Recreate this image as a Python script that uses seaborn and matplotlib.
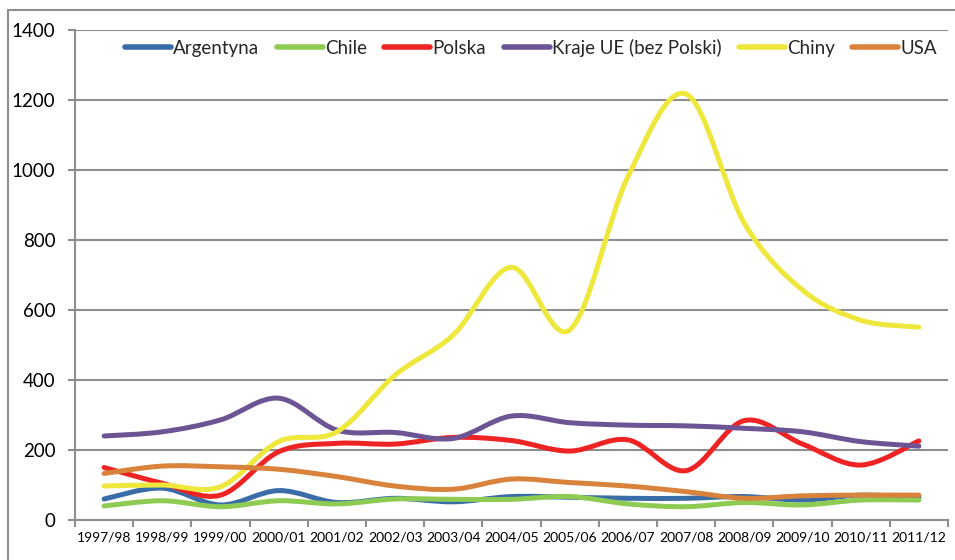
#!/usr/bin/env python3
## import by country 1997/98 - 2011/12, smoothed lines like in excel

import numpy as np
import pandas as pd
import matplotlib
matplotlib.use("Agg")
import matplotlib.pyplot as plt
from matplotlib.path import Path
from matplotlib.patches import PathPatch
from matplotlib.lines import Line2D
import seaborn as sns

seasons = ["1997/98", "1998/99", "1999/00", "2000/01", "2001/02", "2002/03",
           "2003/04", "2004/05", "2005/06", "2006/07", "2007/08", "2008/09",
           "2009/10", "2010/11", "2011/12"]

argentyna = [60, 91, 43, 84, 50, 62, 52, 67, 65, 62, 62, 67, 57, 71, 65]
chile = [40, 55, 38, 55, 46, 60, 59, 59, 67, 46, 38, 50, 43, 57, 57]
polska = [150, 105, 71, 195, 219, 217, 236, 227, 197, 229, 141, 284, 217, 157, 226]
kraje_ue = [240, 252, 286, 348, 257, 250, 233, 297, 278, 271, 269, 262, 252, 224, 211]
chiny = [97, 100, 95, 224, 252, 414, 529, 722, 543, 981, 1217, 848, 657, 571, 551]
usa = [133, 154, 152, 145, 124, 97, 88, 117, 107, 97, 81, 62, 69, 71, 71]

names = ["Argentyna", "Chile", "Polska", "Kraje UE (bez Polski)", "Chiny", "USA"]
series = [argentyna, chile, polska, kraje_ue, chiny, usa]
colors = ["#3A6DA8", "#8DCB52", "#EE2424", "#6D5494", "#EFE83C", "#D9823C"]

rows = []
for name, vals in zip(names, series):
    for i, v in enumerate(vals):
        rows.append({"idx": i, "value": v, "kraj": name})
df = pd.DataFrame(rows)

sns.set_style("white")
plt.rcParams["font.family"] = ["Lato", "DejaVu Sans"]
grid_col = "#8E8E8E"

fig = plt.figure(figsize=(9.55, 5.6), dpi=100)
ax = fig.add_axes([75 / 955, 40 / 560, 873 / 955, 490 / 560])

sns.lineplot(data=df, x="idx", y="value", hue="kraj", hue_order=names,
             palette=colors, linewidth=3.6, ax=ax)


def smooth_path(xs, ys):
    # bezier segments through the points (catmull-rom style, like excel)
    p = np.column_stack([xs, ys]).astype(float)
    n = len(p)
    verts = [p[0]]
    codes = [Path.MOVETO]
    for i in range(n - 1):
        p0 = p[max(i - 1, 0)]
        p1 = p[i]
        p2 = p[i + 1]
        p3 = p[min(i + 2, n - 1)]
        c1 = p1 + (p2 - p0) / 6
        c2 = p2 - (p3 - p1) / 6
        verts += [c1, c2, p2]
        codes += [Path.CURVE4] * 3
    return Path(verts, codes)


for line, col in zip(list(ax.lines), colors):
    xs, ys = line.get_xdata(), line.get_ydata()
    line.set_visible(False)
    patch = PathPatch(smooth_path(xs, ys), facecolor="none", edgecolor=col,
                      lw=3.6, capstyle="round", joinstyle="round", zorder=3)
    ax.add_patch(patch)

ax.set_xlim(-0.5, 14.5)
ax.set_ylim(0, 1400)
ax.set_yticks(range(0, 1401, 200))
ax.set_xticks(range(len(seasons)))
ax.set_xticklabels(seasons)
ax.set_xticks(np.arange(-0.5, 15, 1), minor=True)
ax.set_xlabel("")
ax.set_ylabel("")

ax.yaxis.grid(True, color=grid_col, lw=1.5)
ax.set_axisbelow(True)
for s in ["top", "right"]:
    ax.spines[s].set_visible(False)
for s in ["left", "bottom"]:
    ax.spines[s].set_color(grid_col)
    ax.spines[s].set_linewidth(1.5)

ax.tick_params(axis="y", which="major", length=5, width=1.5, color=grid_col,
               direction="out", pad=9, labelsize=13.5, labelcolor="black", left=True)
ax.tick_params(axis="x", which="major", length=0, pad=8, labelsize=10,
               labelcolor="black")
ax.tick_params(axis="x", which="minor", length=5, width=1.5, color=grid_col,
               direction="out", bottom=True)

sns.move_legend(ax, loc="center", bbox_to_anchor=(531 / 955, 1 - 48 / 560),
                bbox_transform=fig.transFigure, ncol=6, frameon=False, title=None,
                fontsize=13.5, handlelength=2.45, handletextpad=0.1,
                columnspacing=0.95)
for h in ax.get_legend().legend_handles:
    h.set_linewidth(4)
    h.set_solid_capstyle("round")

# chart area border (cut off in the picture)
fig.add_artist(Line2D([8 / 955, 1], [1 - 10 / 560, 1 - 10 / 560],
                      transform=fig.transFigure, color=grid_col, lw=1.5))
fig.add_artist(Line2D([8 / 955, 8 / 955], [0, 1 - 10 / 560],
                      transform=fig.transFigure, color=grid_col, lw=1.5))

fig.savefig("out.png", dpi=100)
plt.close(fig)
